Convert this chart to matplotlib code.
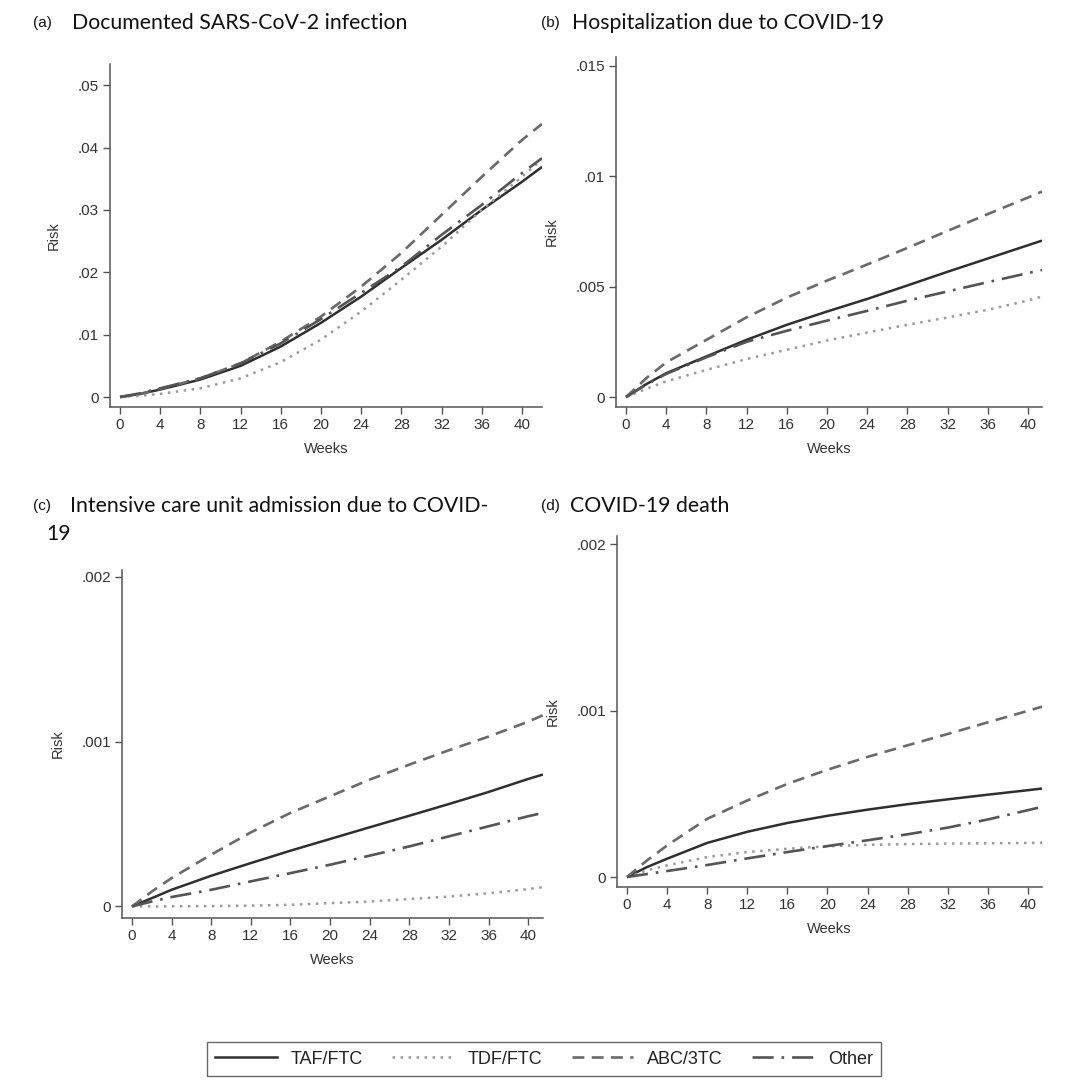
import matplotlib
matplotlib.use("Agg")
import matplotlib.pyplot as plt
from matplotlib.lines import Line2D

# ---------------- data ----------------
weeks = [0, 2, 4, 8, 12, 16, 20, 24, 28, 32, 36, 40]
tick_weeks = [0, 4, 8, 12, 16, 20, 24, 28, 32, 36, 40]

# (a) Documented SARS-CoV-2 infection
a_end = 42.0
a_taf = [0, 0.0005, 0.0012, 0.0028, 0.0050, 0.0081, 0.0119, 0.0161, 0.0207, 0.0252, 0.0300, 0.0345, 0.0369]
a_tdf = [0, 0.0002, 0.0005, 0.0014, 0.0030, 0.0056, 0.0092, 0.0137, 0.0188, 0.0241, 0.0300, 0.0353, 0.0381]
a_abc = [0, 0.0005, 0.0013, 0.0030, 0.0054, 0.0089, 0.0129, 0.0177, 0.0231, 0.0292, 0.0353, 0.0412, 0.0438]
a_oth = [0, 0.0006, 0.0014, 0.0030, 0.0054, 0.0086, 0.0125, 0.0167, 0.0209, 0.0260, 0.0308, 0.0359, 0.0383]

# (b) Hospitalization due to COVID-19
b_end = 41.4
b_taf = [0, 0.00058, 0.00108, 0.00184, 0.00259, 0.00327, 0.00387, 0.00444, 0.00505, 0.00567, 0.00627, 0.00687, 0.00708]
b_tdf = [0, 0.00037, 0.00071, 0.00123, 0.00172, 0.00214, 0.00256, 0.00292, 0.00327, 0.00360, 0.00395, 0.00437, 0.00455]
b_abc = [0, 0.00085, 0.00157, 0.00259, 0.00361, 0.00450, 0.00527, 0.00600, 0.00675, 0.00752, 0.00828, 0.00903, 0.00930]
b_oth = [0, 0.00056, 0.00105, 0.00180, 0.00250, 0.00300, 0.00346, 0.00390, 0.00436, 0.00478, 0.00520, 0.00561, 0.00575]

# (c) ICU admission due to COVID-19
c_end = 41.5
c_taf = [0, 0.000050, 0.000101, 0.000186, 0.000263, 0.000338, 0.000409, 0.000480, 0.000550, 0.000621, 0.000694, 0.000773, 0.000800]
c_tdf = [0, 0.000000, 0.000001, 0.000002, 0.000005, 0.000010, 0.000020, 0.000030, 0.000045, 0.000060, 0.000080, 0.000105, 0.000117]
c_abc = [0, 0.000090, 0.000172, 0.000314, 0.000449, 0.000567, 0.000668, 0.000769, 0.000860, 0.000947, 0.001030, 0.001120, 0.001160]
c_oth = [0, 0.000030, 0.000057, 0.000101, 0.000152, 0.000202, 0.000253, 0.000308, 0.000364, 0.000425, 0.000486, 0.000547, 0.000567]

# (d) COVID-19 death
d_end = 41.4
d_taf = [0, 0.000060, 0.000110, 0.000205, 0.000272, 0.000325, 0.000368, 0.000405, 0.000438, 0.000467, 0.000495, 0.000522, 0.000532]
d_tdf = [0, 0.000040, 0.000070, 0.000120, 0.000150, 0.000170, 0.000185, 0.000193, 0.000198, 0.000201, 0.000203, 0.000205, 0.000206]
d_abc = [0, 0.000100, 0.000190, 0.000350, 0.000460, 0.000560, 0.000645, 0.000722, 0.000792, 0.000860, 0.000930, 0.000999, 0.001024]
d_oth = [0, 0.000018, 0.000036, 0.000072, 0.000112, 0.000150, 0.000186, 0.000221, 0.000257, 0.000297, 0.000346, 0.000402, 0.000422]

series_names = ["TAF/FTC", "TDF/FTC", "ABC/3TC", "Other"]

panel_letters = ["(a)", "(b)", "(c)", "(d)"]
panel_titles = ["Documented SARS-CoV-2 infection",
                "Hospitalization due to COVID-19",
                "Intensive care unit admission due to COVID-",
                "COVID-19 death"]

a_yticks = [0, 0.01, 0.02, 0.03, 0.04, 0.05]
a_ylabels = ["0", ".01", ".02", ".03", ".04", ".05"]
b_yticks = [0, 0.005, 0.01, 0.015]
b_ylabels = ["0", ".005", ".01", ".015"]
cd_yticks = [0, 0.001, 0.002]
cd_ylabels = ["0", ".001", ".002"]

# ---------------- styles ----------------
styles = [
    dict(color="#2f2f2f", linestyle="-", linewidth=1.8),
    dict(color="#9a9a9a", linestyle=(0, (1, 2.2)), linewidth=1.8),
    dict(color="#6a6a6a", linestyle=(0, (4.5, 2.8)), linewidth=1.9),
    dict(color="#555555", linestyle=(0, (8, 3, 1, 3)), linewidth=1.9),
]

W, H = 1080, 1087
fig = plt.figure(figsize=(W / 100, H / 100), dpi=100)
fig.patch.set_facecolor("white")

def box(l, r, t, b):
    return [l / W, 1 - b / H, (r - l) / W, (b - t) / H]

panels = [
    dict(rect=box(110, 542, 64, 407), end=a_end, data=[a_taf, a_tdf, a_abc, a_oth],
         xlim=(-1.0, a_end), ylim=(-0.0016, 0.0534), yt=a_yticks, yl=a_ylabels),
    dict(rect=box(616, 1042, 57, 407), end=b_end, data=[b_taf, b_tdf, b_abc, b_oth],
         xlim=(-1.0, b_end), ylim=(-0.00045, 0.01539), yt=b_yticks, yl=b_ylabels),
    dict(rect=box(122, 543, 570, 918), end=c_end, data=[c_taf, c_tdf, c_abc, c_oth],
         xlim=(-1.0, c_end), ylim=(-0.00007, 0.00204), yt=cd_yticks, yl=cd_ylabels),
    dict(rect=box(617, 1042, 536, 887), end=d_end, data=[d_taf, d_tdf, d_abc, d_oth],
         xlim=(-1.0, d_end), ylim=(-0.00006, 0.00205), yt=cd_yticks, yl=cd_ylabels),
]

tick_font = "Liberation Sans"
for p in panels:
    ax = fig.add_axes(p["rect"])
    xs = weeks + [p["end"]]
    for vals, st in zip(p["data"], styles):
        ax.plot(xs, vals, **st, solid_capstyle="butt", dash_capstyle="butt",
                solid_joinstyle="round")
    ax.set_xlim(*p["xlim"])
    ax.set_ylim(*p["ylim"])
    ax.set_xticks(tick_weeks)
    ax.set_xticklabels([str(w) for w in tick_weeks], fontsize=11, family=tick_font, color="#333333")
    ax.set_yticks(p["yt"])
    ax.set_yticklabels(p["yl"], fontsize=11, family=tick_font, color="#333333")
    for s in ["top", "right"]:
        ax.spines[s].set_visible(False)
    for s in ["left", "bottom"]:
        ax.spines[s].set_color("#555555")
        ax.spines[s].set_linewidth(1.1)
    ax.tick_params(direction="out", length=5, width=1, color="#555555", pad=3)
    ax.set_xlabel("Weeks", fontsize=10.5, family=tick_font, color="#333333", labelpad=7)
    ax.set_ylabel("Risk", fontsize=10.5, family=tick_font, color="#333333", labelpad=12)

# titles
title_font = "Lato"
def ptitle(xl, xt, y, letter, text):
    fig.text(xl / W, 1 - y / H, letter, fontsize=11, family=tick_font, color="#111111", va="center", ha="left")
    fig.text(xt / W, 1 - y / H, text, fontsize=15.3, family=title_font, color="#111111", va="center", ha="left")

ptitle(33, 72, 23, panel_letters[0], panel_titles[0])
ptitle(541, 572, 23, panel_letters[1], panel_titles[1])
ptitle(33, 70, 506, panel_letters[2], panel_titles[2])
fig.text(46 / W, 1 - 534 / H, "19", fontsize=15.3, family=title_font, color="#111111", va="center", ha="left")
ptitle(541, 570, 506, panel_letters[3], panel_titles[3])

# legend
handles = [Line2D([0], [0], **st) for st in styles]
leg = fig.legend(handles, series_names, loc="center", bbox_to_anchor=(544 / W, 1 - 1059 / H),
                 ncol=4, frameon=True, fancybox=False, edgecolor="#444444",
                 prop=dict(family=tick_font, size=13), handlelength=3.4, columnspacing=1.6,
                 borderpad=0.45, handletextpad=0.8)
leg.get_frame().set_linewidth(1.0)
for t in leg.get_texts():
    t.set_color("#222222")

fig.savefig("out.png", dpi=100, facecolor="white")
